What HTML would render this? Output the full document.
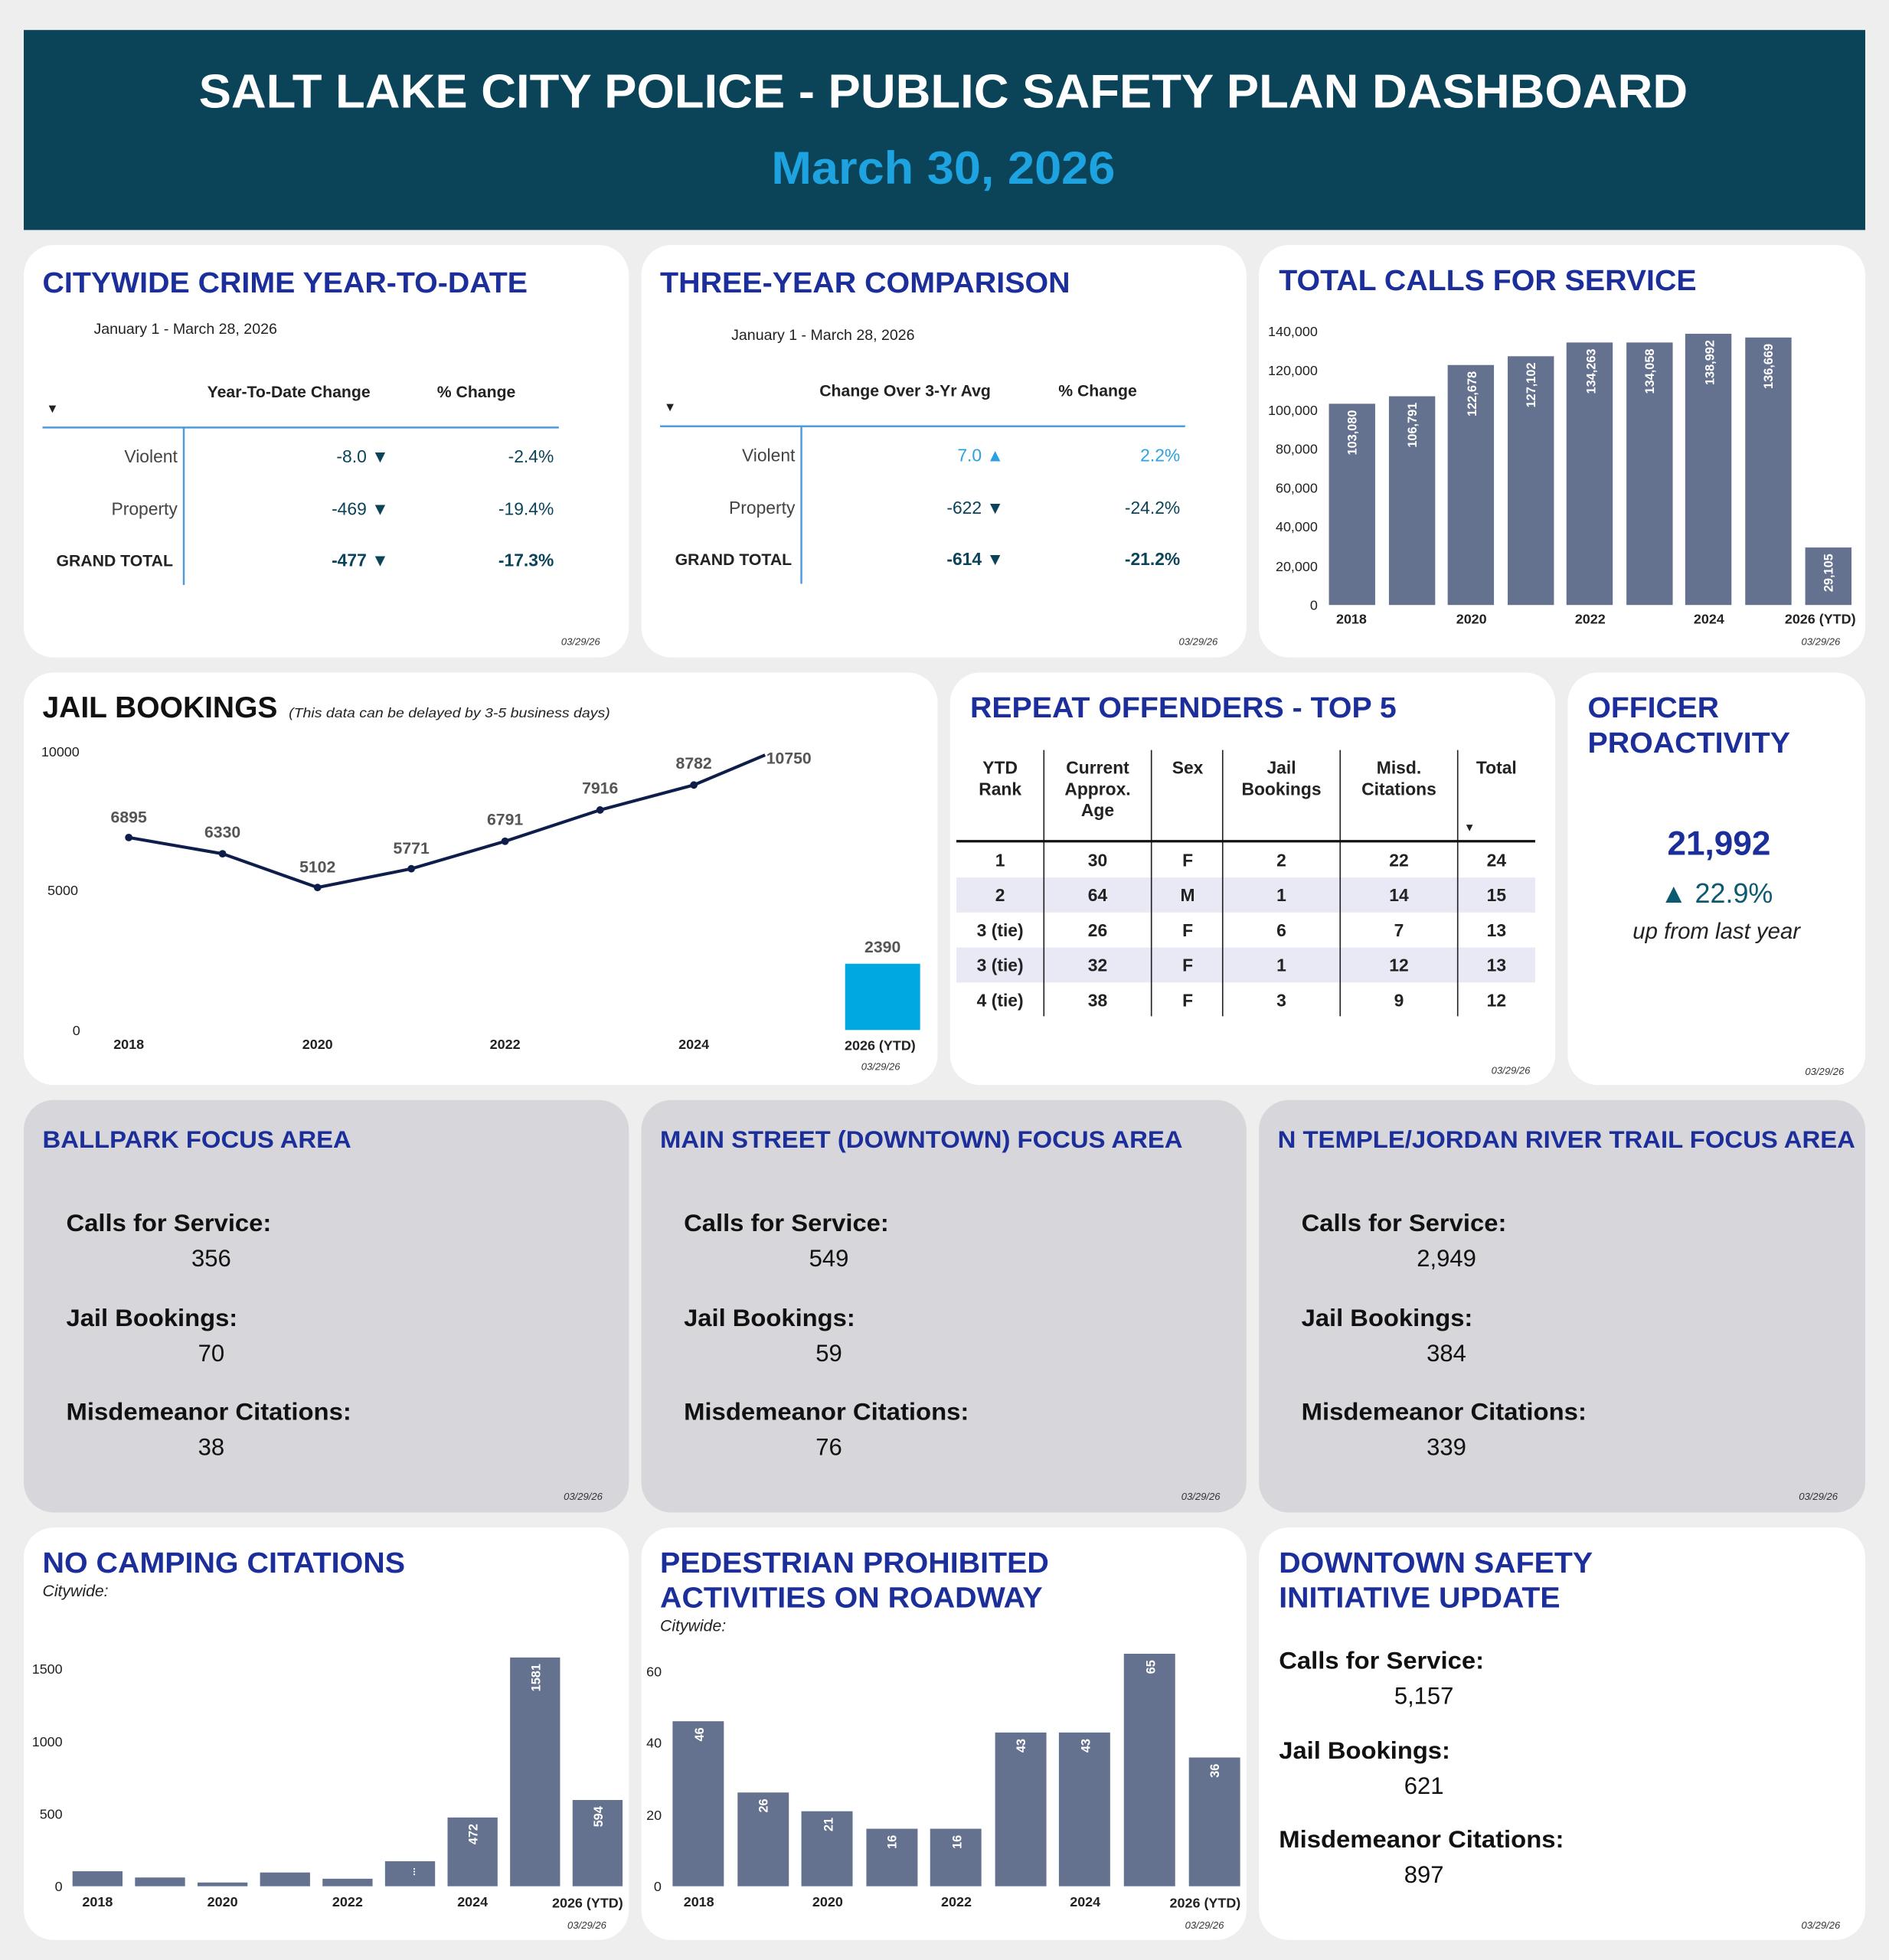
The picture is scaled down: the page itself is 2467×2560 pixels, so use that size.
<!DOCTYPE html>
<html><head><meta charset="utf-8"><style>
html,body{margin:0;padding:0;background:#eeeeee;}
svg{display:block;}
text{font-family:"Liberation Sans",Arial,sans-serif;}
.t{font-weight:bold;fill:#1b2e9a;}
.d{font-size:8px;font-style:italic;fill:#333;text-anchor:end;}
.ax{font-size:11px;fill:#222;}
.xl{font-size:11px;font-weight:bold;fill:#222;text-anchor:middle;}
.bv{font-size:10px;font-weight:bold;fill:#fff;text-anchor:end;}
</style></head><body>
<svg width="2467" height="2560" viewBox="0 0 1511 1568" preserveAspectRatio="none" xmlns="http://www.w3.org/2000/svg">
<rect x="0" y="0" width="1511" height="1568" fill="#eeeeee"/>
<rect x="19" y="24" width="1473" height="160" fill="#0b4359"/>
<text x="159" y="86" font-size="38" font-weight="bold" fill="#fff" textLength="1191" lengthAdjust="spacingAndGlyphs">SALT LAKE CITY POLICE - PUBLIC SAFETY PLAN DASHBOARD</text>
<text x="617" y="147" font-size="37" font-weight="bold" fill="#1ca3e0" textLength="275" lengthAdjust="spacingAndGlyphs">March 30, 2026</text>

<g fill="#fff">
<rect x="19" y="196" width="484" height="330" rx="24"/>
<rect x="513" y="196" width="484" height="330" rx="24"/>
<rect x="1007" y="196" width="485" height="330" rx="24"/>
<rect x="19" y="538" width="731" height="330" rx="24"/>
<rect x="760" y="538" width="484" height="330" rx="24"/>
<rect x="1254" y="538" width="238" height="330" rx="24"/>
<rect x="19" y="1222" width="484" height="330" rx="24"/>
<rect x="513" y="1222" width="484" height="330" rx="24"/>
<rect x="1007" y="1222" width="485" height="330" rx="24"/>
</g>
<g fill="#d6d6db">
<rect x="19" y="880" width="484" height="330" rx="24"/>
<rect x="513" y="880" width="484" height="330" rx="24"/>
<rect x="1007" y="880" width="485" height="330" rx="24"/>
</g>

<!-- Card 1 -->
<text class="t" x="34" y="234" font-size="23" textLength="388" lengthAdjust="spacingAndGlyphs">CITYWIDE CRIME YEAR-TO-DATE</text>
<text x="75" y="267" font-size="12" fill="#222">January 1 - March 28, 2026</text>
<text x="231" y="318" font-size="13" font-weight="bold" fill="#222" text-anchor="middle">Year-To-Date Change</text>
<text x="381" y="318" font-size="13" font-weight="bold" fill="#222" text-anchor="middle">% Change</text>
<text x="37" y="330" font-size="10" fill="#222">▼</text>
<line x1="34" y1="342" x2="447" y2="342" stroke="#4a9be0" stroke-width="1.5"/>
<line x1="147" y1="342" x2="147" y2="468" stroke="#4a9be0" stroke-width="1.5"/>
<g font-size="14" fill="#444">
<text x="142" y="370" text-anchor="end">Violent</text>
<text x="142" y="412" text-anchor="end">Property</text>
<text x="45" y="453" font-weight="bold" fill="#222" font-size="13">GRAND TOTAL</text>
</g>
<g font-size="14" fill="#0b4359" text-anchor="end">
<text x="311" y="370">-8.0 ▼</text><text x="443" y="370">-2.4%</text>
<text x="311" y="412">-469 ▼</text><text x="443" y="412">-19.4%</text>
<text x="311" y="453" font-weight="bold">-477 ▼</text><text x="443" y="453" font-weight="bold">-17.3%</text>
</g>
<text class="d" x="480" y="516">03/29/26</text>

<!-- Card 2 -->
<text class="t" x="528" y="234" font-size="23" textLength="328" lengthAdjust="spacingAndGlyphs">THREE-YEAR COMPARISON</text>
<text x="585" y="272" font-size="12" fill="#222">January 1 - March 28, 2026</text>
<text x="724" y="317" font-size="13" font-weight="bold" fill="#222" text-anchor="middle">Change Over 3-Yr Avg</text>
<text x="878" y="317" font-size="13" font-weight="bold" fill="#222" text-anchor="middle">% Change</text>
<text x="531" y="329" font-size="10" fill="#222">▼</text>
<line x1="528" y1="341" x2="948" y2="341" stroke="#4a9be0" stroke-width="1.5"/>
<line x1="641" y1="341" x2="641" y2="467" stroke="#4a9be0" stroke-width="1.5"/>
<g font-size="14" fill="#444">
<text x="636" y="369" text-anchor="end">Violent</text>
<text x="636" y="411" text-anchor="end">Property</text>
<text x="540" y="452" font-weight="bold" fill="#222" font-size="13">GRAND TOTAL</text>
</g>
<g font-size="14" text-anchor="end">
<text x="803" y="369" fill="#2ca0e0">7.0 ▲</text><text x="944" y="369" fill="#2ca0e0">2.2%</text>
<text x="803" y="411" fill="#0b4359">-622 ▼</text><text x="944" y="411" fill="#0b4359">-24.2%</text>
<text x="803" y="452" fill="#0b4359" font-weight="bold">-614 ▼</text><text x="944" y="452" fill="#0b4359" font-weight="bold">-21.2%</text>
</g>
<text class="d" x="974" y="516">03/29/26</text>

<!-- Card 3 calls -->
<text class="t" x="1023" y="232" font-size="23" textLength="334" lengthAdjust="spacingAndGlyphs">TOTAL CALLS FOR SERVICE</text>
<g class="ax" text-anchor="end">
<text x="1054" y="269">140,000</text><text x="1054" y="300">120,000</text><text x="1054" y="332">100,000</text>
<text x="1054" y="363">80,000</text><text x="1054" y="394">60,000</text><text x="1054" y="425">40,000</text>
<text x="1054" y="457">20,000</text><text x="1054" y="488">0</text>
</g>
<g fill="#64728f">
<rect x="1063" y="323" width="37" height="161"/>
<rect x="1111" y="317" width="37" height="167"/>
<rect x="1158" y="292" width="37" height="192"/>
<rect x="1206" y="285" width="37" height="199"/>
<rect x="1253" y="274" width="37" height="210"/>
<rect x="1301" y="274" width="37" height="210"/>
<rect x="1348" y="267" width="37" height="217"/>
<rect x="1396" y="270" width="37" height="214"/>
<rect x="1444" y="438" width="37" height="46"/>
</g>
<g class="bv">
<text transform="translate(1085,328) rotate(-90)">103,080</text>
<text transform="translate(1133,322) rotate(-90)">106,791</text>
<text transform="translate(1181,297) rotate(-90)">122,678</text>
<text transform="translate(1228,290) rotate(-90)">127,102</text>
<text transform="translate(1276,279) rotate(-90)">134,263</text>
<text transform="translate(1323,279) rotate(-90)">134,058</text>
<text transform="translate(1371,272) rotate(-90)">138,992</text>
<text transform="translate(1418,275) rotate(-90)">136,669</text>
<text transform="translate(1466,443) rotate(-90)">29,105</text>
</g>
<g class="xl">
<text x="1081" y="499">2018</text><text x="1177" y="499">2020</text><text x="1272" y="499">2022</text>
<text x="1367" y="499">2024</text><text x="1456" y="499">2026 (YTD)</text>
</g>
<text class="d" x="1472" y="516">03/29/26</text>

<!-- Jail bookings -->
<text x="34" y="574" font-size="24" font-weight="bold" fill="#111" textLength="188" lengthAdjust="spacingAndGlyphs">JAIL BOOKINGS</text>
<text x="231" y="574" font-size="11" font-style="italic" fill="#222" textLength="257" lengthAdjust="spacingAndGlyphs">(This data can be delayed by 3-5 business days)</text>
<g class="ax">
<text x="33" y="605">10000</text><text x="38" y="716">5000</text><text x="58" y="828">0</text>
</g>
<polyline points="103,670 178,683 254,710 329,695 404,673 480,648 555,628 612,604" fill="none" stroke="#0f1d4a" stroke-width="2.5"/>
<g fill="#0f1d4a">
<circle cx="103" cy="670" r="3"/><circle cx="178" cy="683" r="3"/><circle cx="254" cy="710" r="3"/>
<circle cx="329" cy="695" r="3"/><circle cx="404" cy="673" r="3"/><circle cx="480" cy="648" r="3"/><circle cx="555" cy="628" r="3"/>
</g>
<g font-size="13" font-weight="bold" fill="#555" text-anchor="middle">
<text x="103" y="658">6895</text><text x="178" y="670">6330</text><text x="254" y="698">5102</text>
<text x="329" y="683">5771</text><text x="404" y="660">6791</text><text x="480" y="635">7916</text>
<text x="555" y="615">8782</text><text x="631" y="611">10750</text>
</g>
<rect x="676" y="771" width="60" height="53" fill="#00a8e1"/>
<text x="706" y="762" font-size="13" font-weight="bold" fill="#555" text-anchor="middle">2390</text>
<g class="xl">
<text x="103" y="839">2018</text><text x="254" y="839">2020</text><text x="404" y="839">2022</text>
<text x="555" y="839">2024</text><text x="704" y="840">2026 (YTD)</text>
</g>
<text class="d" x="720" y="856">03/29/26</text>

<!-- Repeat offenders -->
<text class="t" x="776" y="574" font-size="23" textLength="341" lengthAdjust="spacingAndGlyphs">REPEAT OFFENDERS - TOP 5</text>
<rect x="765" y="702" width="463" height="28" fill="#e8e9f5"/>
<rect x="765" y="758" width="463" height="28" fill="#e8e9f5"/>
<g stroke="#222" stroke-width="1">
<line x1="835" y1="600" x2="835" y2="813"/><line x1="921" y1="600" x2="921" y2="813"/>
<line x1="978" y1="600" x2="978" y2="813"/><line x1="1072" y1="600" x2="1072" y2="813"/>
<line x1="1166" y1="600" x2="1166" y2="813"/>
</g>
<line x1="765" y1="673" x2="1228" y2="673" stroke="#111" stroke-width="2"/>
<g font-size="14" font-weight="bold" fill="#222" text-anchor="middle">
<text x="800" y="619">YTD</text><text x="800" y="636">Rank</text>
<text x="878" y="619">Current</text><text x="878" y="636">Approx.</text><text x="878" y="653">Age</text>
<text x="950" y="619">Sex</text>
<text x="1025" y="619">Jail</text><text x="1025" y="636">Bookings</text>
<text x="1119" y="619">Misd.</text><text x="1119" y="636">Citations</text>
<text x="1197" y="619">Total</text>
</g>
<text x="1171" y="665" font-size="9" fill="#222">▼</text>
<g font-size="14" font-weight="bold" fill="#222" text-anchor="middle">
<text x="800" y="693">1</text><text x="878" y="693">30</text><text x="950" y="693">F</text><text x="1025" y="693">2</text><text x="1119" y="693">22</text><text x="1197" y="693">24</text>
<text x="800" y="721">2</text><text x="878" y="721">64</text><text x="950" y="721">M</text><text x="1025" y="721">1</text><text x="1119" y="721">14</text><text x="1197" y="721">15</text>
<text x="800" y="749">3 (tie)</text><text x="878" y="749">26</text><text x="950" y="749">F</text><text x="1025" y="749">6</text><text x="1119" y="749">7</text><text x="1197" y="749">13</text>
<text x="800" y="777">3 (tie)</text><text x="878" y="777">32</text><text x="950" y="777">F</text><text x="1025" y="777">1</text><text x="1119" y="777">12</text><text x="1197" y="777">13</text>
<text x="800" y="805">4 (tie)</text><text x="878" y="805">38</text><text x="950" y="805">F</text><text x="1025" y="805">3</text><text x="1119" y="805">9</text><text x="1197" y="805">12</text>
</g>
<text class="d" x="1224" y="859">03/29/26</text>

<!-- Officer proactivity -->
<text class="t" x="1270" y="574" font-size="23" textLength="105" lengthAdjust="spacingAndGlyphs">OFFICER</text>
<text class="t" x="1270" y="602" font-size="23" textLength="162" lengthAdjust="spacingAndGlyphs">PROACTIVITY</text>
<text x="1375" y="684" font-size="27" font-weight="bold" fill="#1b2e9a" text-anchor="middle">21,992</text>
<text x="1373" y="722" font-size="22" fill="#0b5a70" text-anchor="middle">▲ 22.9%</text>
<text x="1373" y="751" font-size="18" font-style="italic" fill="#222" text-anchor="middle">up from last year</text>
<text class="d" x="1475" y="860">03/29/26</text>

<!-- Focus areas -->
<g font-size="19" fill="#111">
<text class="t" x="34" y="918" font-size="19" textLength="247" lengthAdjust="spacingAndGlyphs">BALLPARK FOCUS AREA</text>
<text x="53" y="985" font-weight="bold" textLength="164" lengthAdjust="spacingAndGlyphs">Calls for Service:</text><text x="169" y="1013" text-anchor="middle">356</text>
<text x="53" y="1061" font-weight="bold" textLength="137" lengthAdjust="spacingAndGlyphs">Jail Bookings:</text><text x="169" y="1089" text-anchor="middle">70</text>
<text x="53" y="1136" font-weight="bold" textLength="228" lengthAdjust="spacingAndGlyphs">Misdemeanor Citations:</text><text x="169" y="1164" text-anchor="middle">38</text>

<text class="t" x="528" y="918" font-size="19" textLength="418" lengthAdjust="spacingAndGlyphs">MAIN STREET (DOWNTOWN) FOCUS AREA</text>
<text x="547" y="985" font-weight="bold" textLength="164" lengthAdjust="spacingAndGlyphs">Calls for Service:</text><text x="663" y="1013" text-anchor="middle">549</text>
<text x="547" y="1061" font-weight="bold" textLength="137" lengthAdjust="spacingAndGlyphs">Jail Bookings:</text><text x="663" y="1089" text-anchor="middle">59</text>
<text x="547" y="1136" font-weight="bold" textLength="228" lengthAdjust="spacingAndGlyphs">Misdemeanor Citations:</text><text x="663" y="1164" text-anchor="middle">76</text>

<text class="t" x="1022" y="918" font-size="19" textLength="462" lengthAdjust="spacingAndGlyphs">N TEMPLE/JORDAN RIVER TRAIL FOCUS AREA</text>
<text x="1041" y="985" font-weight="bold" textLength="164" lengthAdjust="spacingAndGlyphs">Calls for Service:</text><text x="1157" y="1013" text-anchor="middle">2,949</text>
<text x="1041" y="1061" font-weight="bold" textLength="137" lengthAdjust="spacingAndGlyphs">Jail Bookings:</text><text x="1157" y="1089" text-anchor="middle">384</text>
<text x="1041" y="1136" font-weight="bold" textLength="228" lengthAdjust="spacingAndGlyphs">Misdemeanor Citations:</text><text x="1157" y="1164" text-anchor="middle">339</text>
</g>
<text class="d" x="482" y="1200">03/29/26</text>
<text class="d" x="976" y="1200">03/29/26</text>
<text class="d" x="1470" y="1200">03/29/26</text>

<!-- No camping -->
<text class="t" x="34" y="1258" font-size="23" textLength="290" lengthAdjust="spacingAndGlyphs">NO CAMPING CITATIONS</text>
<text x="34" y="1277" font-size="13" font-style="italic" fill="#222">Citywide:</text>
<g class="ax" text-anchor="end">
<text x="50" y="1339">1500</text><text x="50" y="1397">1000</text><text x="50" y="1455">500</text><text x="50" y="1513">0</text>
</g>
<g fill="#64728f">
<rect x="58" y="1497" width="40" height="12"/>
<rect x="108" y="1502" width="40" height="7"/>
<rect x="158" y="1506" width="40" height="3"/>
<rect x="208" y="1498" width="40" height="11"/>
<rect x="258" y="1503" width="40" height="6"/>
<rect x="308" y="1489" width="40" height="20"/>
<rect x="358" y="1454" width="40" height="55"/>
<rect x="408" y="1326" width="40" height="183"/>
<rect x="458" y="1440" width="40" height="69"/>
</g>
<g class="bv">
<text transform="translate(332,1494) rotate(-90)" font-size="8">...</text>
<text transform="translate(382,1459) rotate(-90)">472</text>
<text transform="translate(432,1331) rotate(-90)">1581</text>
<text transform="translate(482,1445) rotate(-90)">594</text>
</g>
<g class="xl">
<text x="78" y="1525">2018</text><text x="178" y="1525">2020</text><text x="278" y="1525">2022</text>
<text x="378" y="1525">2024</text><text x="470" y="1526">2026 (YTD)</text>
</g>
<text class="d" x="485" y="1543">03/29/26</text>

<!-- Pedestrian -->
<text class="t" x="528" y="1258" font-size="23" textLength="311" lengthAdjust="spacingAndGlyphs">PEDESTRIAN PROHIBITED</text>
<text class="t" x="528" y="1286" font-size="23" textLength="306" lengthAdjust="spacingAndGlyphs">ACTIVITIES ON ROADWAY</text>
<text x="528" y="1305" font-size="13" font-style="italic" fill="#222">Citywide:</text>
<g class="ax">
<text x="517" y="1341">60</text><text x="517" y="1398">40</text><text x="517" y="1456">20</text><text x="523" y="1513">0</text>
</g>
<g fill="#64728f">
<rect x="538" y="1377" width="41" height="132"/>
<rect x="590" y="1434" width="41" height="75"/>
<rect x="641" y="1449" width="41" height="60"/>
<rect x="693" y="1463" width="41" height="46"/>
<rect x="744" y="1463" width="41" height="46"/>
<rect x="796" y="1386" width="41" height="123"/>
<rect x="847" y="1386" width="41" height="123"/>
<rect x="899" y="1323" width="41" height="186"/>
<rect x="951" y="1406" width="41" height="103"/>
</g>
<g class="bv">
<text transform="translate(563,1382) rotate(-90)">46</text>
<text transform="translate(614,1439) rotate(-90)">26</text>
<text transform="translate(666,1454) rotate(-90)">21</text>
<text transform="translate(717,1468) rotate(-90)">16</text>
<text transform="translate(769,1468) rotate(-90)">16</text>
<text transform="translate(820,1391) rotate(-90)">43</text>
<text transform="translate(872,1391) rotate(-90)">43</text>
<text transform="translate(924,1328) rotate(-90)">65</text>
<text transform="translate(975,1411) rotate(-90)">36</text>
</g>
<g class="xl">
<text x="559" y="1525">2018</text><text x="662" y="1525">2020</text><text x="765" y="1525">2022</text>
<text x="868" y="1525">2024</text><text x="964" y="1526">2026 (YTD)</text>
</g>
<text class="d" x="979" y="1543">03/29/26</text>

<!-- Downtown safety -->
<text class="t" x="1023" y="1258" font-size="23" textLength="251" lengthAdjust="spacingAndGlyphs">DOWNTOWN SAFETY</text>
<text class="t" x="1023" y="1286" font-size="23" textLength="225" lengthAdjust="spacingAndGlyphs">INITIATIVE UPDATE</text>
<g font-size="19" fill="#111">
<text x="1023" y="1335" font-weight="bold" textLength="164" lengthAdjust="spacingAndGlyphs">Calls for Service:</text><text x="1139" y="1363" text-anchor="middle">5,157</text>
<text x="1023" y="1407" font-weight="bold" textLength="137" lengthAdjust="spacingAndGlyphs">Jail Bookings:</text><text x="1139" y="1435" text-anchor="middle">621</text>
<text x="1023" y="1478" font-weight="bold" textLength="228" lengthAdjust="spacingAndGlyphs">Misdemeanor Citations:</text><text x="1139" y="1506" text-anchor="middle">897</text>
</g>
<text class="d" x="1472" y="1543">03/29/26</text>
</svg>
</body></html>
